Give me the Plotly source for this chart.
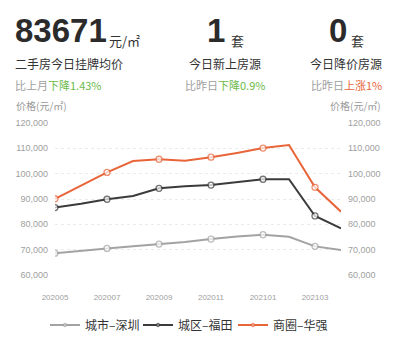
import plotly.graph_objects as go

months = ["202005", "202006", "202007", "202008", "202009", "202010",
          "202011", "202012", "202101", "202102", "202103", "202104"]
city_sz = [68600, 69700, 70500, 71300, 72200, 73000, 74200, 75200, 75900, 75100, 71300, 69900]
district_ft = [86600, 88100, 89900, 91200, 94200, 95000, 95500, 96600, 97800, 97800, 83300, 78400]
area_hq = [90100, 95300, 100500, 105000, 105700, 105100, 106500, 108200, 110100, 111300, 94600, 85000]
series_names = ["城市–深圳", "城区–福田", "商圈–华强"]
series_colors = ["#a3a3a3", "#3b3b3b", "#e8653a"]
yticks = [60000, 70000, 80000, 90000, 100000, 110000, 120000]

W, H = 398, 340
L, R, T, B = 55, 341, 123, 275


def px(x):
    return (x - L) / (R - L)


def py(y):
    return (B - y) / (B - T)


fig = go.Figure()
xs = list(range(len(months)))
msize = [6 if i % 2 == 0 else 0 for i in xs]
legend_ids = ["legend", "legend2", "legend3"]
for name, vals, col, lg in zip(series_names, [city_sz, district_ft, area_hq], series_colors, legend_ids):
    fig.add_trace(go.Scatter(
        x=xs, y=vals, name=name, mode="lines+markers", legend=lg,
        line=dict(color=col, width=2),
        marker=dict(size=msize, color="white", line=dict(color=col, width=1.3)),
        hoverinfo="skip",
    ))
# invisible trace to activate the right axis
fig.add_trace(go.Scatter(x=xs, y=city_sz, yaxis="y2", mode="lines",
                         line=dict(width=0), opacity=0, showlegend=False, hoverinfo="skip"))

legfont = dict(family="Noto Sans CJK SC, sans-serif", size=12, color="#333")


def leg(xpix):
    return dict(orientation="h", x=px(xpix), xanchor="left", y=py(325), yanchor="middle",
                font=legfont, itemwidth=30, bgcolor="rgba(0,0,0,0)", borderwidth=0)


tickfont = dict(family="Liberation Sans, Arial, sans-serif", size=9, color="#a0a0a0")
fig.update_layout(
    width=W, height=H,
    margin=dict(l=L, r=W - R, t=T, b=H - B, autoexpand=False),
    paper_bgcolor="white", plot_bgcolor="white",
    showlegend=True,
    legend=leg(45), legend2=leg(138), legend3=leg(233),
    xaxis=dict(range=[0, 11], tickvals=xs[::2], ticktext=months[::2], showgrid=False,
               zeroline=False, showline=False, ticks="", tickfont=dict(tickfont, size=8),
               ticklabelstandoff=16, automargin=False),
    yaxis=dict(range=[60000, 120000], tickvals=yticks, tickformat=",d",
               showgrid=True, gridcolor="#ebebeb", griddash="dot", gridwidth=1,
               zeroline=False, showline=False, ticks="", tickfont=tickfont,
               ticklabelstandoff=6, automargin=False),
    yaxis2=dict(range=[60000, 120000], tickvals=yticks, tickformat=",d", overlaying="y",
                side="right", showgrid=False, zeroline=False, showline=False, ticks="",
                tickfont=tickfont, ticklabelstandoff=6, automargin=False),
)

cjk = "Noto Sans CJK SC, sans-serif"
anns = []


def ann(text, x, y, size, color="#333", family=cjk, xanchor="left", yanchor="middle"):
    anns.append(dict(text=text, x=px(x), y=py(y), xref="paper", yref="paper",
                     showarrow=False, xanchor=xanchor, yanchor=yanchor,
                     font=dict(family=family, size=size, color=color)))


big = "Liberation Sans, Arial, sans-serif"
ann("<b>83671</b>", 13, 31, 33, "#2b2b2b", big)
ann("元/㎡", 107, 40, 13)
ann("二手房今日挂牌均价", 13, 63, 12)
ann("比上月<span style='color:#6cbb4a'>下降1.43%</span>", 13, 85, 11, "#a0a0a0")

ann("<b>1</b>", 227, 31, 33, "#2b2b2b", big, xanchor="right")
ann("套", 229, 40, 13)
ann("今日新上房源", 225, 63, 12, xanchor="center")
ann("比昨日<span style='color:#6cbb4a'>下降0.9%</span>", 225, 85, 11, "#a0a0a0", xanchor="center")

ann("<b>0</b>", 349, 31, 33, "#2b2b2b", big, xanchor="right")
ann("套", 349, 40, 13)
ann("今日降价房源", 346, 63, 12, xanchor="center")
ann("比昨日<span style='color:#e8653a'>上涨1%</span>", 346, 85, 11, "#a0a0a0", xanchor="center")

ann("价格(元/㎡)", 14, 105, 10, "#999")
ann("价格(元/㎡)", 383, 105, 10, "#999", xanchor="right")
fig.update_layout(annotations=anns)

fig.write_html("out.html")
